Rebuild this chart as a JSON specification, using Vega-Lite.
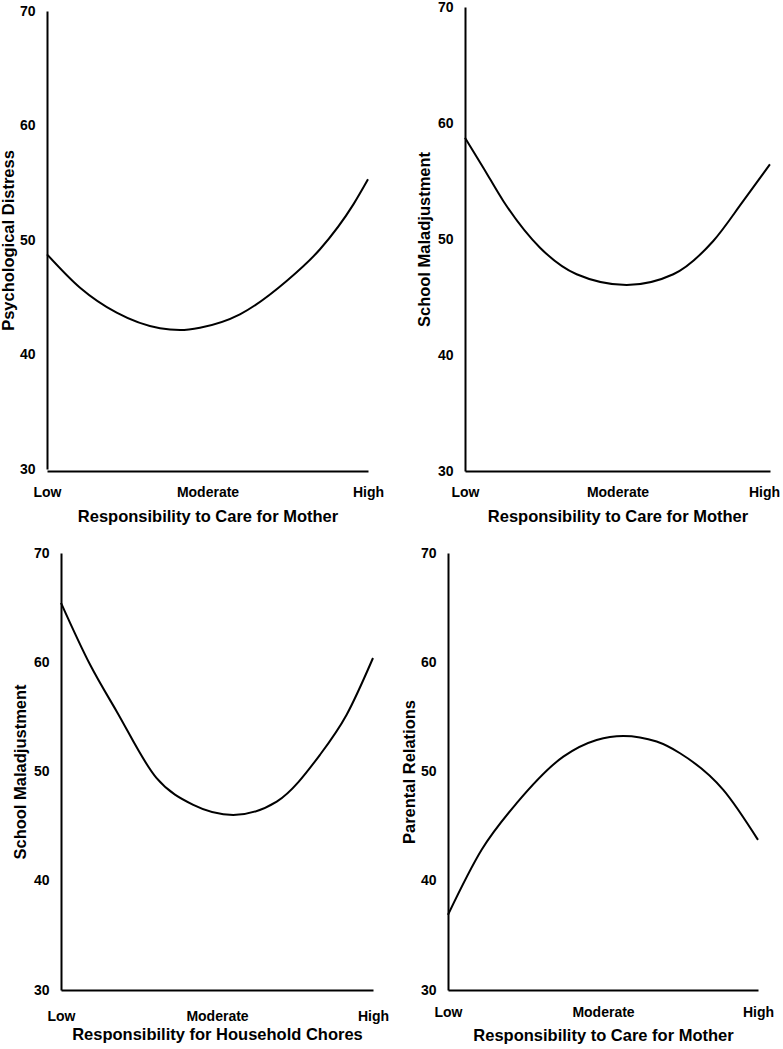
{
  "$schema": "https://vega.github.io/schema/vega-lite/v6.json",
  "padding": {"left": 0, "top": 0, "right": 0, "bottom": 0},
  "background": "white",
  "config": {
    "view": {"stroke": null},
    "font": "Liberation Sans",
    "axis": {
      "grid": false,
      "ticks": false,
      "domainColor": "black",
      "domainWidth": 2,
      "labelFont": "Liberation Sans",
      "labelFontWeight": "bold",
      "labelFontSize": 14,
      "labelColor": "black",
      "titleFont": "Liberation Sans",
      "titleFontWeight": "bold",
      "titleFontSize": 16.5,
      "titleColor": "black"
    },
    "line": {"color": "black", "strokeWidth": 2, "interpolate": "monotone"}
  },
  "data": {
    "values": [
      {"panel": "A", "x": 0, "v": 48.75},
      {"panel": "A", "x": 0.206, "v": 45.83},
      {"panel": "A", "x": 0.434, "v": 43.65},
      {"panel": "A", "x": 0.704, "v": 42.29},
      {"panel": "A", "x": 0.829, "v": 42.14},
      {"panel": "A", "x": 0.953, "v": 42.34},
      {"panel": "A", "x": 1.202, "v": 43.51},
      {"panel": "A", "x": 1.493, "v": 46.42},
      {"panel": "A", "x": 1.701, "v": 49.19},
      {"panel": "A", "x": 1.909, "v": 53.11},
      {"panel": "A", "x": 2.0, "v": 55.3},
      {"panel": "B", "x": 0, "v": 58.73},
      {"panel": "B", "x": 0.12, "v": 56.15},
      {"panel": "B", "x": 0.251, "v": 53.28},
      {"panel": "B", "x": 0.492, "v": 49.25},
      {"panel": "B", "x": 0.732, "v": 46.96},
      {"panel": "B", "x": 1.06, "v": 46.03},
      {"panel": "B", "x": 1.366, "v": 46.96},
      {"panel": "B", "x": 1.628, "v": 49.83},
      {"panel": "B", "x": 1.825, "v": 53.28},
      {"panel": "B", "x": 2.0, "v": 56.44},
      {"panel": "C", "x": 0, "v": 65.44},
      {"panel": "C", "x": 0.186, "v": 59.79},
      {"panel": "C", "x": 0.357, "v": 55.5},
      {"panel": "C", "x": 0.613, "v": 49.39},
      {"panel": "C", "x": 0.848, "v": 46.94},
      {"panel": "C", "x": 1.104, "v": 46.02},
      {"panel": "C", "x": 1.383, "v": 47.25},
      {"panel": "C", "x": 1.66, "v": 51.53},
      {"panel": "C", "x": 1.831, "v": 55.2},
      {"panel": "C", "x": 2.0, "v": 60.39},
      {"panel": "D", "x": 0, "v": 36.88},
      {"panel": "D", "x": 0.217, "v": 42.83},
      {"panel": "D", "x": 0.443, "v": 47.1},
      {"panel": "D", "x": 0.744, "v": 51.36},
      {"panel": "D", "x": 0.959, "v": 52.89},
      {"panel": "D", "x": 1.131, "v": 53.26},
      {"panel": "D", "x": 1.346, "v": 52.74},
      {"panel": "D", "x": 1.497, "v": 51.67},
      {"panel": "D", "x": 1.776, "v": 48.32},
      {"panel": "D", "x": 2.0, "v": 43.74}
    ]
  },
  "bounds": "flush",
  "columns": 2,
  "spacing": {"row": 82, "column": 75},
  "concat": [
    {
      "width": 321,
      "height": 464,
      "transform": [{"filter": "datum.panel == 'A'"}],
      "mark": "line",
      "encoding": {
        "x": {
          "field": "x", "type": "quantitative",
          "scale": {"domain": [0, 2], "nice": false},
          "axis": {"values": [0, 1, 2], "labelExpr": "datum.value == 0 ? 'Low' : datum.value == 1 ? 'Moderate' : 'High'", "labelFlush": false, "labelOverlap": false, "labelPadding": 14, "title": "Responsibility to Care for Mother", "titleY": 37, "titleBaseline": "top"}
        },
        "y": {
          "field": "v", "type": "quantitative",
          "scale": {"domain": [30, 70], "nice": false, "range": [462, 4]},
          "axis": {"values": [30, 40, 50, 60, 70], "labelPadding": 12, "title": "Psychological Distress", "titleX": -31, "titleBaseline": "bottom", "titleAngle": 270}
        }
      }
    },
    {
      "width": 322,
      "height": 464,
      "transform": [{"filter": "datum.panel == 'B'"}],
      "mark": "line",
      "encoding": {
        "x": {
          "field": "x", "type": "quantitative",
          "scale": {"domain": [0, 2], "nice": false, "range": [17, 322]},
          "axis": {"values": [0, 1, 2], "labelExpr": "datum.value == 0 ? 'Low' : datum.value == 1 ? 'Moderate' : 'High'", "labelFlush": false, "labelOverlap": false, "labelPadding": 14, "labelOffset": {"condition": {"test": "datum.value == 2", "value": -6}, "value": 0}, "title": "Responsibility to Care for Mother", "titleY": 37, "titleBaseline": "top"}
        },
        "y": {
          "field": "v", "type": "quantitative",
          "scale": {"domain": [30, 70], "nice": false},
          "axis": {"values": [30, 40, 50, 60, 70], "labelPadding": 12, "offset": -17, "title": "School Maladjustment", "titleX": -33, "titleBaseline": "bottom", "titleAngle": 270}
        }
      }
    },
    {
      "width": 326,
      "height": 437,
      "transform": [{"filter": "datum.panel == 'C'"}],
      "mark": "line",
      "encoding": {
        "x": {
          "field": "x", "type": "quantitative",
          "scale": {"domain": [0, 2], "nice": false, "range": [14, 326]},
          "axis": {"values": [0, 1, 2], "labelExpr": "datum.value == 0 ? 'Low' : datum.value == 1 ? 'Moderate' : 'High'", "labelFlush": false, "labelOverlap": false, "labelPadding": 19, "title": "Responsibility for Household Chores", "titleY": 36, "titleBaseline": "top"}
        },
        "y": {
          "field": "v", "type": "quantitative",
          "scale": {"domain": [30, 70], "nice": false},
          "axis": {"values": [30, 40, 50, 60, 70], "labelPadding": 12, "offset": -14, "title": "School Maladjustment", "titleX": -33, "titleBaseline": "bottom", "titleAngle": 270}
        }
      }
    },
    {
      "width": 310,
      "height": 437,
      "transform": [{"filter": "datum.panel == 'D'"}],
      "mark": "line",
      "encoding": {
        "x": {
          "field": "x", "type": "quantitative",
          "scale": {"domain": [0, 2], "nice": false},
          "axis": {"values": [0, 1, 2], "labelExpr": "datum.value == 0 ? 'Low' : datum.value == 1 ? 'Moderate' : 'High'", "labelFlush": false, "labelOverlap": false, "labelPadding": 15, "title": "Responsibility to Care for Mother", "titleY": 37, "titleBaseline": "top"}
        },
        "y": {
          "field": "v", "type": "quantitative",
          "scale": {"domain": [30, 70], "nice": false},
          "axis": {"values": [30, 40, 50, 60, 70], "labelPadding": 12, "title": "Parental Relations", "titleX": -31, "titleBaseline": "bottom", "titleAngle": 270}
        }
      }
    }
  ]
}
